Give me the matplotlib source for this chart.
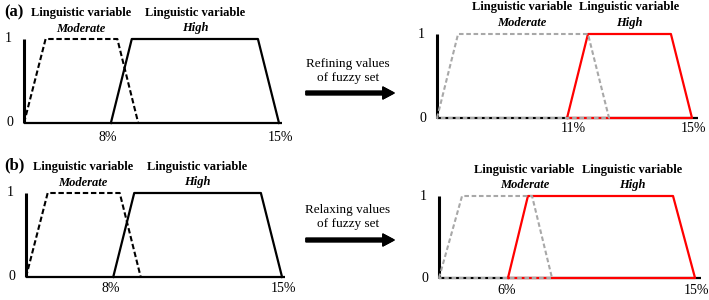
import matplotlib.pyplot as plt

plt.rcParams['font.family'] = ['Liberation Serif', 'DejaVu Serif']

# trapezoid break points (schematic x units, 15 = 15% end of axis), membership 0..1
mu = [0, 1, 1, 0]
mod_base = [0.0, 1.27, 5.49, 6.72]       # Moderate, original
high_base = [5.11, 6.34, 13.76, 15.0]    # High, original
mod_refine = [0.0, 1.24, 8.88, 10.12]    # Moderate after refining
high_refine = [7.65, 8.88, 13.76, 15.0]  # High after refining
mod_relax = [0.0, 1.35, 5.45, 6.62]      # Moderate after relaxing
high_relax = [4.04, 5.21, 13.71, 15.0]   # High after relaxing

tick_a_left = [(4.95, '8%'), (15.1, '15%')]
tick_a_right = [(8.0, '11%'), (15.1, '15%')]
tick_b_left = [(4.95, '8%'), (15.1, '15%')]
tick_b_right = [(3.98, '6%'), (15.1, '15%')]

arrow_text = ['Refining values\nof fuzzy set', 'Relaxing values\nof fuzzy set']
panel_tags = ['(a)', '(b)']

W, H = 709, 300
fig = plt.figure(figsize=(7.09, 3.0), dpi=100)


def panel(ox, oy, sx, sy):
    # axes placed so that (0,0) sits at pixel (ox, oy), sx px per unit, sy px per membership
    l, r = ox - 20, ox + 265
    b, t = oy + 20, oy - sy - 35
    ax = fig.add_axes([l / W, 1 - b / H, (r - l) / W, (b - t) / H])
    ax.set_xlim(-20 / sx, 265 / sx)
    ax.set_ylim(-20 / sy, (sy + 35) / sy)
    ax.axis('off')
    return ax


def decorate(ax, ticks, tick_y, title_x, title_y):
    ax.text(-0.9, 1.0, '1', ha='center', va='center', fontsize=10)
    ax.text(-0.85, 0.0, '0', ha='center', va='center', fontsize=10)
    for x, s in ticks:
        ax.text(x, tick_y, s, ha='center', va='center', fontsize=10)
    for tx, word in zip(title_x, ['Moderate', 'High']):
        ax.text(tx, title_y, 'Linguistic variable', ha='center', va='center',
                fontsize=9, fontweight='bold', clip_on=False)
        ax.text(tx, title_y - 0.185, word, ha='center', va='center',
                fontsize=9, fontweight='bold', style='italic', clip_on=False)


def axis_lines(ax, xend):
    ax.plot([0, 0], [0, 1], color='black', lw=2.2, solid_capstyle='butt')
    ax.plot([0, xend], [0, 0], color='black', lw=1.6, solid_capstyle='butt')


# left panels: original sets
for ax, ticks, ty in [(panel(24, 123, 17.0, 84), tick_a_left, -0.17),
                      (panel(26, 277, 17.07, 84), tick_b_left, -0.14)]:
    axis_lines(ax, 15.2)
    ax.plot(mod_base, mu, color='black', lw=1.5, ls=(0, (2.6, 1.3)))
    ax.plot(high_base, mu, color='black', lw=1.6)
    decorate(ax, ticks, ty, [3.35, 10.05], 1.31)

# right panels: adjusted sets
for ax, ticks, ty, mod, high in [
        (panel(437, 118, 17.0, 84), tick_a_right, -0.12, mod_refine, high_refine),
        (panel(439, 278, 17.07, 82), tick_b_right, -0.15, mod_relax, high_relax)]:
    axis_lines(ax, 15.35)
    ax.plot(high + [high[0]], mu + [0], color='red', lw=1.6)
    ax.plot(mod + [mod[0]], mu + [0], color='#a8a8a8', lw=1.5, ls=(0, (2.2, 1.3)))
    decorate(ax, ticks, ty, [5.0, 11.3], 1.32)

# panel tags and arrows between columns
for tag, txt, ytxt, yarr, ytag in zip(panel_tags, arrow_text, [71, 217], [93, 240], [12, 165]):
    fig.text(4 / W, 1 - ytag / H, tag, ha='left', va='center', fontsize=12, fontweight='bold')
    fig.text(348 / W, 1 - ytxt / H, txt, ha='center', va='center', fontsize=9.5,
             linespacing=1.3)
    fig.add_artist(plt.annotate('', xy=(394 / W, 1 - yarr / H), xytext=(306 / W, 1 - yarr / H),
                                xycoords='figure fraction', textcoords='figure fraction',
                                arrowprops=dict(facecolor='black', edgecolor='black',
                                                width=2.5, headwidth=8.5, headlength=8,
                                                shrink=0)))

fig.savefig('out.png', dpi=100)
